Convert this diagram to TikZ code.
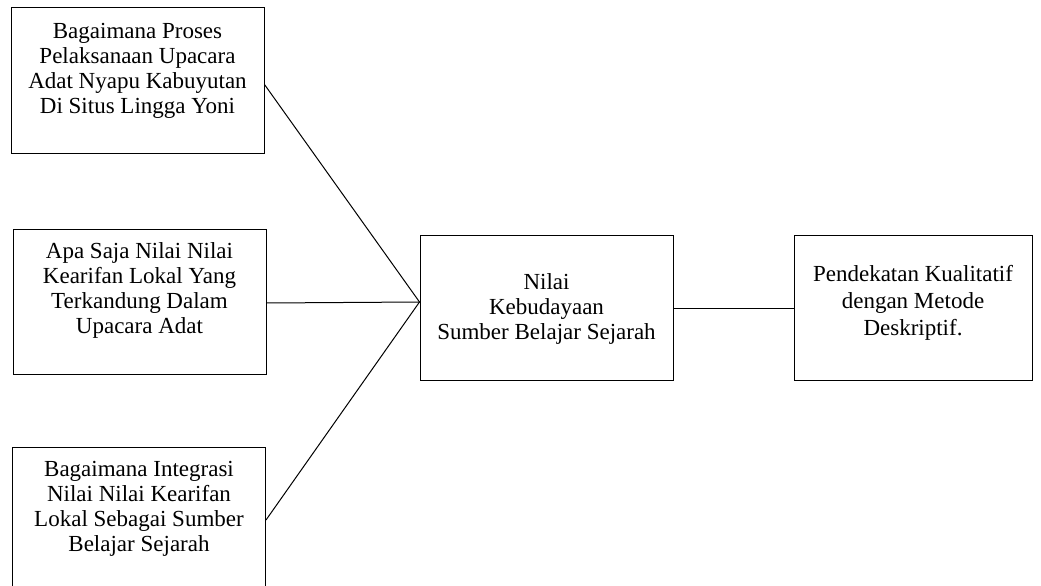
\documentclass[tikz,border=0pt]{standalone}
\usepackage{fontspec}
\setmainfont{Liberation Serif}
\usetikzlibrary{positioning}

\tikzset{
  kotak/.style={draw, line width=1pt, minimum width=253pt, minimum height=145pt, inner sep=0pt},
  teks/.style={align=center, inner sep=0pt, font=\fontsize{23}{25}\selectfont},
  garis/.style={line width=1pt}
}

\begin{document}
\begin{tikzpicture}[x=1pt,y=-1pt]

\useasboundingbox (0,0) rectangle (1041,586);

\node[kotak] (b1) at (137.5,80.5) {};
\node[kotak] (b2) at (139.5,301.5) {};
\node[kotak] (b3) at (139,520) {};
\node[kotak] (mid) at (546.5,308) {};
\node[kotak, minimum width=238pt] (kanan) at (913,308) {};

\node[teks, below=16pt of b1.north] (t1) {Bagaimana Proses\\Pelaksanaan Upacara\\Adat Nyapu Kabuyutan\\Di Situs Lingga Yoni};
\node[teks, below=14pt of b2.north] (t2) {Apa Saja Nilai Nilai\\Kearifan Lokal Yang\\Terkandung Dalam\\Upacara Adat};
\node[teks, below=14pt of b3.north] (t3) {Bagaimana Integrasi\\Nilai Nilai Kearifan\\Lokal Sebagai Sumber\\Belajar Sejarah};
\node[teks, below=38pt of mid.north] (tm) {Nilai\\Kebudayaan\\Sumber Belajar Sejarah};
\node[teks, font=\fontsize{23}{27}\selectfont, below=30pt of kanan.north] (tk) {Pendekatan Kualitatif\\dengan Metode\\Deskriptif.};

\coordinate (temu) at ([yshift=6pt]mid.west);

\draw[garis] ([yshift=-4pt]b1.east) -- (temu);
\draw[garis] ([yshift=-1.5pt]b2.east) -- (temu);
\draw[garis] (b3.east) -- (temu);
\draw[garis] (mid.east) -- (kanan.west);

\end{tikzpicture}
\end{document}
